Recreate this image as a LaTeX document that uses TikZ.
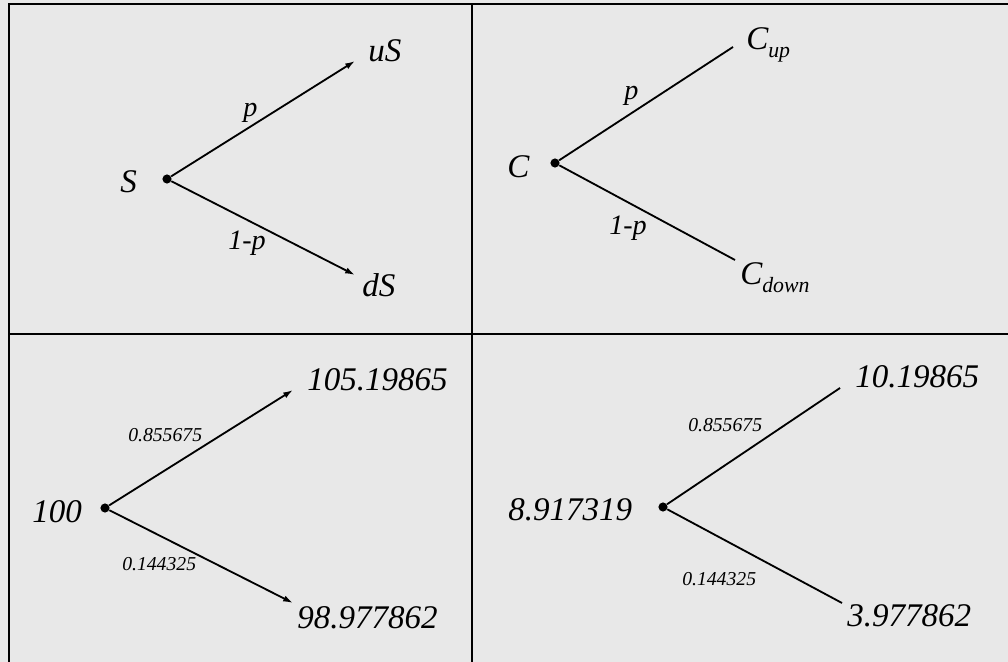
\documentclass[tikz,border=0pt]{standalone}
\usepackage{fontspec}
\setmainfont{Liberation Serif}
\usetikzlibrary{arrows.meta}
\definecolor{paper}{gray}{0.91}

\begin{document}
\begin{tikzpicture}[
    x=0.025cm, y=-0.025cm,
    big/.style={font=\fontsize{23.5}{26}\selectfont\itshape, inner sep=0pt, anchor=base west},
    prob/.style={font=\fontsize{20}{22}\selectfont\itshape, inner sep=0pt, anchor=base west},
    small/.style={font=\fontsize{14}{16}\selectfont\itshape, inner sep=0pt, anchor=base west},
    root/.style={circle, fill, inner sep=0pt, minimum size=6.5pt},
    branch/.style={line width=1.3pt},
    arr/.style={branch, -{Latex[length=7pt, width=4.5pt]}},
    rule/.style={line width=2pt},
  ]
    \def\lowsub#1{\raisebox{-5pt}{\fontsize{15.5}{16}\selectfont #1}}% subscript
    \useasboundingbox[fill=paper] (0,0) rectangle (1008,662);
    % Table rules
    \draw[rule] (1008,4) -- (9,4) -- (9,662);
    \draw[rule] (472,4) -- (472,662);
    \draw[rule] (9,334) -- (1008,334);
    % Top left: stock tree
    \node[root] (s0) at (167,179) {};
    \node[big] (s) at (120,193) {S};
    \coordinate (sUp) at (355,61);
    \coordinate (sDown) at (355,275);
    \node[big] (us) at (368,62) {uS};
    \node[big] (ds) at (362,297) {dS};
    \draw[arr] (s0) -- (sUp);
    \draw[arr] (s0) -- (sDown);
    \node[prob] (sp) at (243,117) {p};
    \node[prob] (sq) at (228,250) {1-p};
    % Top right: option tree
    \node[root] (c0) at (555,163) {};
    \node[big] (c) at (507,178) {C};
    \coordinate (cUp) at (733,47);
    \coordinate (cDown) at (735,260);
    \node[big] (cu) at (746,50) {C\lowsub{up}};
    \node[big] (cd) at (740,285) {C\lowsub{down}};
    \draw[branch] (c0) -- (cUp);
    \draw[branch] (c0) -- (cDown);
    \node[prob] (cp) at (624,100) {p};
    \node[prob] (cq) at (609,235) {1-p};
    % Bottom left: stock values
    \node[root] (n0) at (105,508) {};
    \node[big] (n) at (32,522) {100};
    \coordinate (nUp) at (293,390);
    \coordinate (nDown) at (293,603);
    \node[big] (nu) at (307,391) {105.19865};
    \node[big] (nd) at (297,628) {98.977862};
    \draw[arr] (n0) -- (nUp);
    \draw[arr] (n0) -- (nDown);
    \node[small] (np) at (128,442) {0.855675};
    \node[small] (nq) at (122,570) {0.144325};
    % Bottom right: option values
    \node[root] (v0) at (663,507) {};
    \node[big] (v) at (508,520) {8.917319};
    \coordinate (vUp) at (840,388);
    \coordinate (vDown) at (842,603);
    \node[big] (vu) at (855,388) {10.19865};
    \node[big] (vd) at (847,626) {3.977862};
    \draw[branch] (v0) -- (vUp);
    \draw[branch] (v0) -- (vDown);
    \node[small] (vp) at (688,432) {0.855675};
    \node[small] (vq) at (682,585) {0.144325};
\end{tikzpicture}
\end{document}
